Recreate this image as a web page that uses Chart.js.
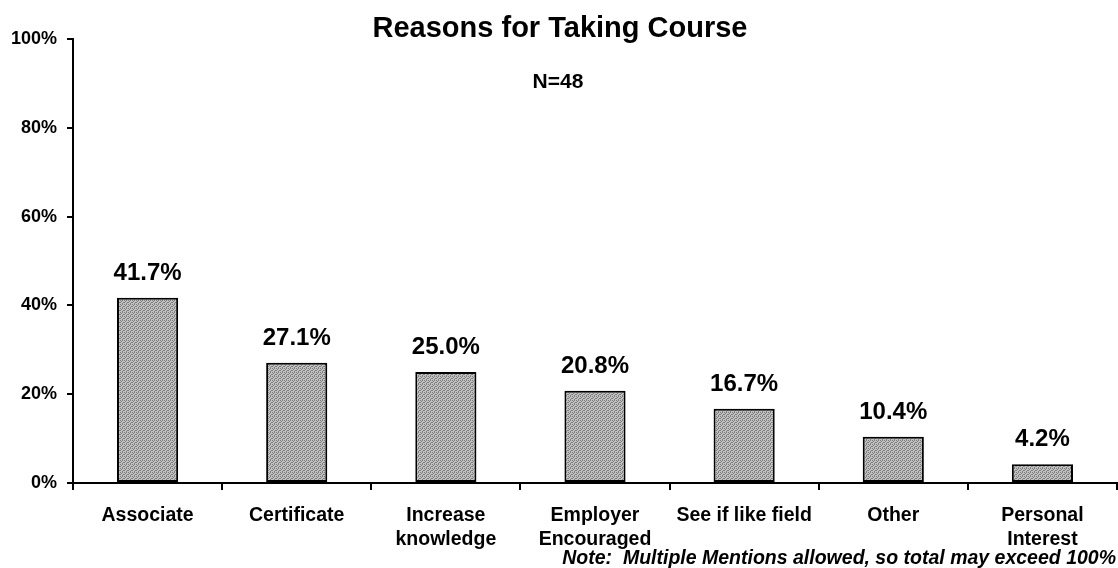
<!DOCTYPE html>
<html>
<head>
<meta charset="utf-8">
<script src="https://cdn.jsdelivr.net/npm/chart.js@4/dist/chart.umd.min.js"></script>
<style>
  html, body { margin: 0; padding: 0; background: #fff; }
  #wrap { width: 1118px; height: 568px; position: relative; }
</style>
</head>
<body>
<div id="wrap"><canvas id="c" width="1118" height="568"></canvas></div>
<script>
/* ---------- DATA ---------- */
const categories = [
  "Associate",
  "Certificate",
  ["Increase", "knowledge"],
  ["Employer", "Encouraged"],
  "See if like field",
  "Other",
  ["Personal", "Interest"],
];
const percents = [41.7, 27.1, 25.0, 20.8, 16.7, 10.4, 4.2];
const yTicks = [0, 20, 40, 60, 80, 100];

const titleText = "Reasons for Taking Course";
const subText = "N=48";
const noteText = "Note:  Multiple Mentions allowed, so total may exceed 100%";

const ink = "#000";
const FONT = "'Liberation Sans', Arial, sans-serif";

/* ---------- STIPPLE FILL ---------- */
function stipple() {
  const p = document.createElement("canvas");
  p.width = 4;
  p.height = 4;
  const g = p.getContext("2d");
  g.fillStyle = "#c2c2c2";
  g.fillRect(0, 0, 4, 4);
  g.fillStyle = "#7c7c7c";
  [[0, 0], [2, 0], [1, 1], [3, 2], [0, 2], [2, 3]].forEach(([x, y]) => g.fillRect(x, y, 1, 1));
  return g.createPattern(p, "repeat");
}
const barFill = stipple();

/* ---------- TEXT PLUGIN ---------- */
const textPlugin = {
  id: "texts",
  afterDatasetsDraw(chart) {
    const c = chart.ctx;
    c.save();
    c.fillStyle = ink;
    c.textAlign = "center";
    c.textBaseline = "alphabetic";

    // value labels above bars
    c.font = `bold 24px ${FONT}`;
    chart.getDatasetMeta(0).data.forEach((bar, i) => {
      c.fillText(percents[i].toFixed(1) + "%", bar.x, bar.y - 18);
    });

    // title + N
    c.font = `bold 29px ${FONT}`;
    c.fillText(titleText, 560, 37);
    c.font = `bold 21px ${FONT}`;
    c.fillText(subText, 558, 88);

    // note
    c.font = `italic bold 19.5px ${FONT}`;
    c.textAlign = "right";
    c.fillText(noteText, 1116, 564);
    c.restore();
  },
};

/* ---------- CHART ---------- */
new Chart(document.getElementById("c"), {
  type: "bar",
  data: {
    labels: categories,
    datasets: [
      {
        data: percents,
        backgroundColor: barFill,
        borderColor: ink,
        borderWidth: 2,
        borderSkipped: false,
        barPercentage: 0.41,
        categoryPercentage: 1,
      },
    ],
  },
  options: {
    responsive: false,
    animation: false,
    events: [],
    layout: { padding: { top: 39, right: 1, left: 0, bottom: 0 } },
    plugins: {
      legend: { display: false },
      tooltip: { enabled: false },
      title: { display: false },
    },
    scales: {
      x: {
        offset: true,
        border: { color: ink, width: 2 },
        grid: {
          offset: true,
          drawOnChartArea: false,
          color: ink,
          lineWidth: 2,
          tickLength: 7,
        },
        ticks: {
          color: ink,
          font: { family: FONT, size: 19.5, weight: "bold", lineHeight: 1.25 },
          padding: 13,
          maxRotation: 0,
          autoSkip: false,
        },
        afterFit: (s) => { s.height = 85; },
      },
      y: {
        min: yTicks[0],
        max: yTicks[yTicks.length - 1],
        afterBuildTicks: (s) => { s.ticks = yTicks.map((v) => ({ value: v })); },
        border: { color: ink, width: 2 },
        grid: {
          drawOnChartArea: false,
          color: ink,
          lineWidth: 2,
          tickLength: 6,
        },
        ticks: {
          color: ink,
          font: { family: FONT, size: 18, weight: "bold" },
          padding: 10,
          callback: (v) => v + "%",
        },
        afterFit: (s) => { s.width = 73; },
      },
    },
  },
  plugins: [textPlugin],
});
</script>
</body>
</html>
